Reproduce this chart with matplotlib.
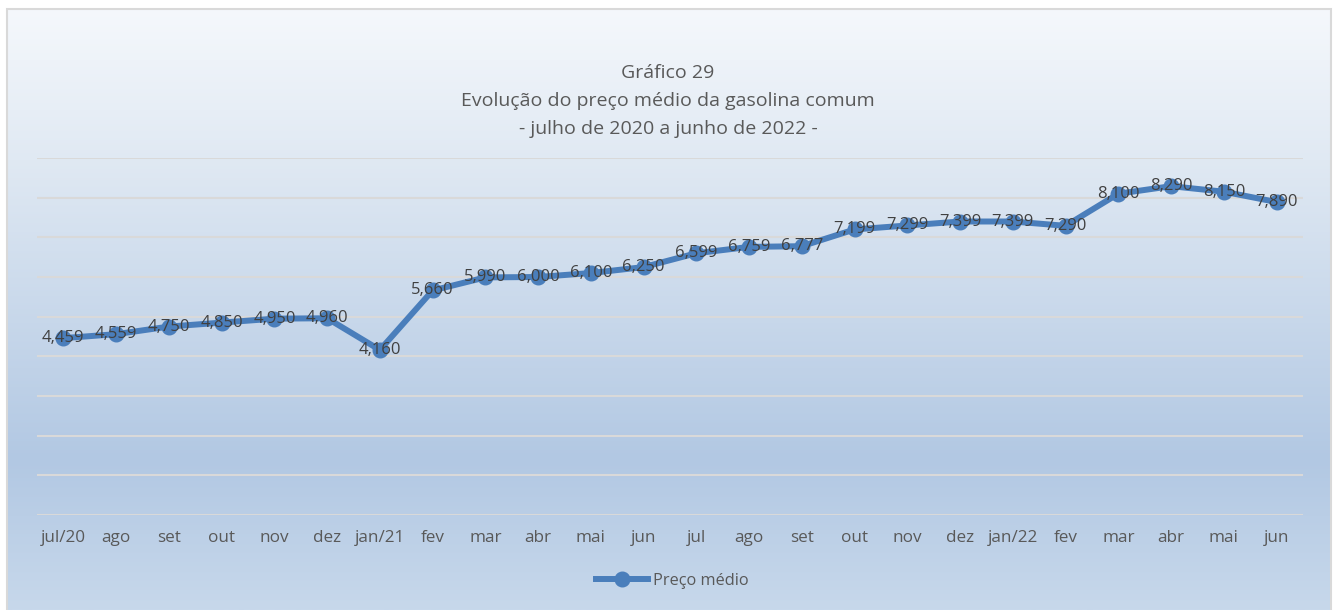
import numpy as np
import matplotlib
matplotlib.use("Agg")
import matplotlib.pyplot as plt
from matplotlib.colors import LinearSegmentedColormap
from matplotlib.patches import Rectangle

meses = ["jul/20", "ago", "set", "out", "nov", "dez", "jan/21", "fev", "mar", "abr",
         "mai", "jun", "jul", "ago", "set", "out", "nov", "dez", "jan/22", "fev",
         "mar", "abr", "mai", "jun"]
preco_medio = [4.459, 4.559, 4.750, 4.850, 4.950, 4.960, 4.160, 5.660, 5.990, 6.000,
               6.100, 6.250, 6.599, 6.759, 6.777, 7.199, 7.299, 7.399, 7.399, 7.290,
               8.100, 8.290, 8.150, 7.890]

titulo = "Gráfico 29\nEvolução do preço médio da gasolina comum\n- julho de 2020 a junho de 2022 -"

plt.rcParams['font.family'] = ['Open Sans', 'DejaVu Sans']

W, H = 1336, 610
fig = plt.figure(figsize=(W / 100, H / 100), dpi=100)
fig.patch.set_facecolor("white")

# fundo em gradiente (estilo Excel)
bg = fig.add_axes([7 / W, 0, 1324 / W, 1 - 9 / H], zorder=0)
grad = LinearSegmentedColormap.from_list("bg", [
    (0.0, (245/255, 248/255, 252/255)),
    (0.25, (224/255, 233/255, 243/255)),
    (0.75, (178/255, 200/255, 227/255)),
    (1.0, (199/255, 216/255, 235/255)),
])
bg.imshow(np.linspace(0, 1, 256).reshape(-1, 1), aspect="auto", cmap=grad,
          extent=[0, 1, 0, 1], origin="upper")
bg.set_xlim(0, 1)
bg.set_ylim(0, 1)
bg.axis("off")
fig.patches.append(Rectangle((7 / W, -0.01), 1324 / W, 1 - 9 / H + 0.01,
                             transform=fig.transFigure, fill=False,
                             edgecolor="#d9d9d9", linewidth=1.5, zorder=5))

ax = fig.add_axes([37 / W, 95 / H, 1266 / W, 357 / H], zorder=1)
ax.patch.set_alpha(0)
x = np.arange(len(meses))
ax.plot(x, preco_medio, color="#4a7ebb", linewidth=4.3, marker="o",
        markersize=10.5, label="Preço médio", zorder=3)
for xi, v in zip(x, preco_medio):
    ax.text(xi, v, f"{v:.3f}".replace(".", ","), ha="center", va="center",
            fontsize=12, color="#404040", zorder=4)

ax.set_xlim(-0.5, len(meses) - 0.5)
ax.set_ylim(0, 9)
ax.set_yticks(range(0, 10))
ax.yaxis.grid(True, color="#d9d9d9", linewidth=1.5)
ax.set_axisbelow(True)
ax.tick_params(axis="y", left=False, labelleft=False)
ax.set_xticks(x)
ax.set_xticklabels(meses, fontsize=12.3, color="#595959")
ax.tick_params(axis="x", length=0, pad=11)
for s in ax.spines.values():
    s.set_visible(False)

fig.text(668 / W, 1 - 101 / H, titulo, ha="center", va="center", fontsize=14,
         color="#595959", linespacing=1.72)

fig.legend(loc="center", bbox_to_anchor=(672 / W, 1 - 581 / H), frameon=False,
           fontsize=11.8, labelcolor="#595959", handlelength=3.2, handletextpad=0.3)

fig.savefig("out.png", dpi=100)
